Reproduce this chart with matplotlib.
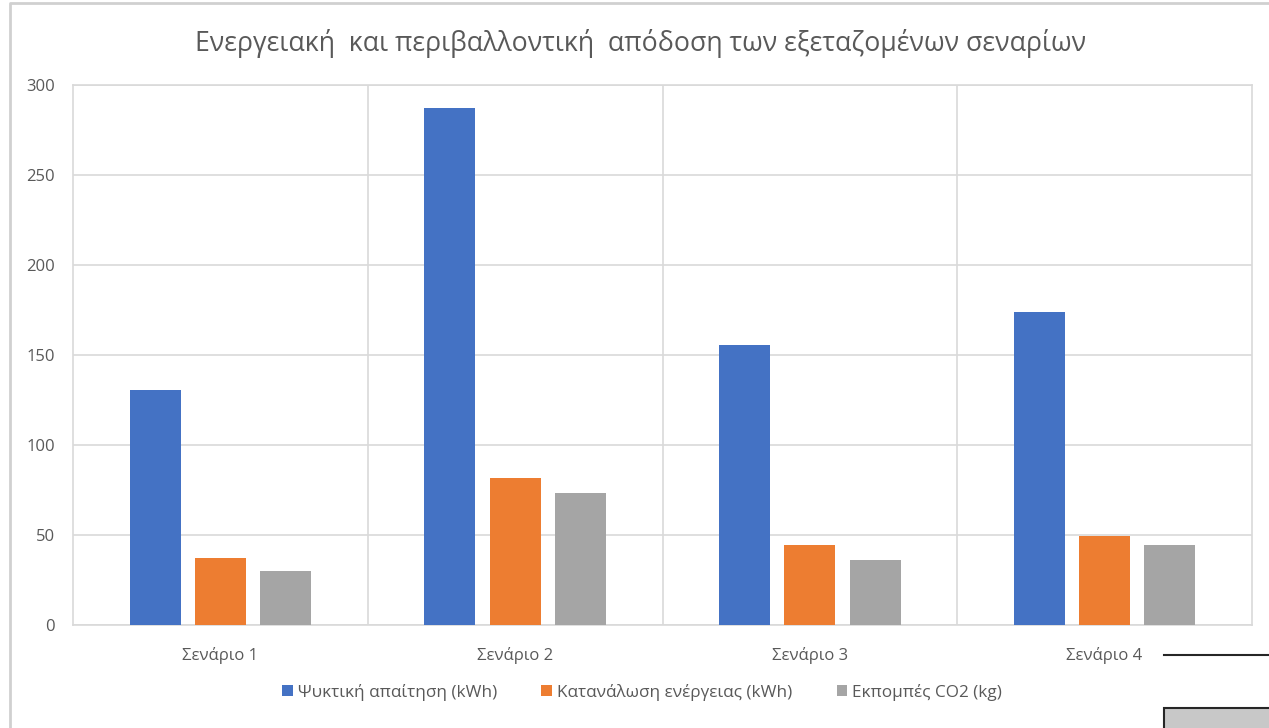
import numpy as np
import matplotlib.pyplot as plt
from matplotlib.patches import Rectangle
from matplotlib.lines import Line2D

plt.rcParams['font.family'] = ['Open Sans', 'DejaVu Sans']

scenarios = ['Σενάριο 1', 'Σενάριο 2', 'Σενάριο 3', 'Σενάριο 4']
cooling = [130.5, 287.3, 155.5, 173.9]
energy = [37.2, 81.6, 44.3, 49.5]
co2 = [30.0, 73.2, 36.1, 44.3]
series_names = ['Ψυκτική απαίτηση (kWh)', 'Κατανάλωση ενέργειας (kWh)', 'Εκπομπές CO2 (kg)']
colors = ['#4472c4', '#ed7d31', '#a5a5a5']

fig = plt.figure(figsize=(12.69, 7.28), dpi=100)
ax = fig.add_axes([73/1269, 103/728, 1179/1269, 540/728])

x = np.arange(len(scenarios))
w = 0.173
step = 0.221
for i, (vals, name, c) in enumerate(zip([cooling, energy, co2], series_names, colors)):
    ax.bar(x + (i - 1) * step, vals, w, color=c, label=name, zorder=3)

ax.set_xlim(-0.5, 3.5)
ax.set_ylim(0, 300)
ax.set_yticks(np.arange(0, 301, 50))
ax.set_xticks(x)
ax.set_xticklabels(scenarios)
ax.set_xticks(np.arange(0.5, 3, 1), minor=True)
ax.grid(axis='y', which='major', color='#d9d9d9', lw=1.2, zorder=0)
ax.grid(axis='x', which='minor', color='#d9d9d9', lw=1.2, zorder=0)
ax.tick_params(axis='both', which='both', length=0, colors='#595959', labelsize=12)
ax.tick_params(axis='y', pad=13)
ax.tick_params(axis='x', pad=16)
for s in ax.spines.values():
    s.set_color('#d9d9d9')
    s.set_linewidth(1.2)

fig.text(0.505, 0.94, 'Ενεργειακή  και περιβαλλοντική  απόδοση των εξεταζομένων σεναρίων',
         ha='center', va='center', fontsize=19.2, color='#595959')

leg = fig.legend(loc='center', bbox_to_anchor=(0.506, 0.049), ncol=3, frameon=False,
                 fontsize=12.3, handlelength=0.6, handleheight=0.6, handletextpad=0.3,
                 columnspacing=2.6)
for t in leg.get_texts():
    t.set_color('#595959')

# chart border and stray objects from the screenshot
fig.add_artist(Line2D([9.5/1269, 9.5/1269, 1], [0, 1 - 3/728, 1 - 3/728],
                      color='#d0d0d0', lw=2, transform=fig.transFigure, zorder=5))
fig.add_artist(Line2D([1164/1269, 1], [1 - 655/728, 1 - 655/728],
                      color='#262626', lw=1.5, transform=fig.transFigure))
fig.add_artist(Rectangle((1164/1269, -0.01), 1 - 1164/1269 + 0.01, 20/728 + 0.01,
                         transform=fig.transFigure,
                         facecolor='#c8c8c8', edgecolor='#262626', lw=1.5))

fig.savefig('out.png', dpi=100)
